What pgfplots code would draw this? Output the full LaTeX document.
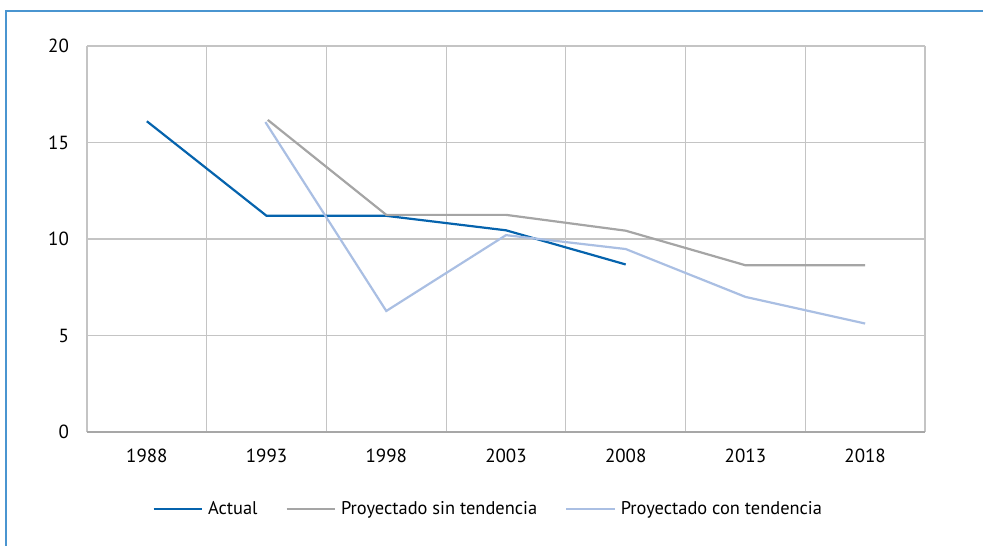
\documentclass[border=0pt]{standalone}
\usepackage{fontspec}
\setmainfont{PT Sans}
\usepackage{pgfplots}
\pgfplotsset{compat=1.18}
\definecolor{actual}{HTML}{0563AD}
\definecolor{sintend}{HTML}{A5A5A5}
\definecolor{context}{HTML}{AABFE3}
\definecolor{gridc}{HTML}{C4C4C4}
\definecolor{frame}{HTML}{4A95D0}

\begin{document}
\begin{tikzpicture}
% page is 983 x 545 px, 1 px = 0.5pt
\begin{axis}[
    at={(43.5pt,56.5pt)}, anchor=south west,
    scale only axis,
    width=419pt, height=193pt,
    xmin=-0.5, xmax=6.5,
    ymin=0, ymax=20,
    xtick={0,...,6},
    xticklabels={1988,1993,1998,2003,2008,2013,2018},
    ytick={0,5,...,20},
    minor xtick={-0.5,0.5,...,6.5},
    xminorgrids, ymajorgrids,
    grid style={gridc, line width=0.6pt},
    minor grid style={gridc, line width=0.6pt},
    major tick length=0pt, minor tick length=0pt,
    axis line style={draw=none},
    tick label style={font=\fontsize{9.5}{11}\selectfont},
    xticklabel style={yshift=-5pt},
    yticklabel style={xshift=-5.5pt},
    /pgf/number format/assume math mode=true,
    legend style={at={(0.48,-0.2)}, anchor=center, draw=none,
        legend columns=3, font=\fontsize{9.2}{11}\selectfont,
        inner sep=0pt,
        /tikz/every odd column/.append style={column sep=0.5pt},
        /tikz/every even column/.append style={column sep=12pt}},
    legend cell align=left,
    legend image code/.code={\draw[#1] (0cm,0cm) -- (0.85cm,0cm);},
    clip=false,
]
\draw[gridc!85!black, line width=0.9pt] (axis cs:-0.5,0) -- (axis cs:6.5,0);
\addplot[actual, line width=1.1pt] coordinates {
    (0,16.1) (1,11.2) (2,11.2) (3,10.45) (4,8.68)
};
\addplot[sintend, line width=1.1pt] coordinates {
    (1.01,16.17) (2,11.25) (3,11.25) (4,10.43) (5,8.64) (6,8.64)
};
\addplot[context, line width=1.1pt] coordinates {
    (0.99,16.06) (2,6.27) (3,10.2) (4,9.48) (5,7.0) (6,5.62)
};
\addlegendentry{Actual}
\addlegendentry{Proyectado sin tendencia}
\addlegendentry{Proyectado con tendencia}
\end{axis}
\pgfresetboundingbox
\path[use as bounding box] (0pt,0pt) rectangle (491.5pt,272.5pt);
\begin{scope}
\clip (0pt,0pt) rectangle (491.5pt,272.5pt);
\draw[frame, line width=1pt] (3pt,-10pt) -- (3pt,267pt) -- (505pt,267pt);
\end{scope}
\end{tikzpicture}
\end{document}
